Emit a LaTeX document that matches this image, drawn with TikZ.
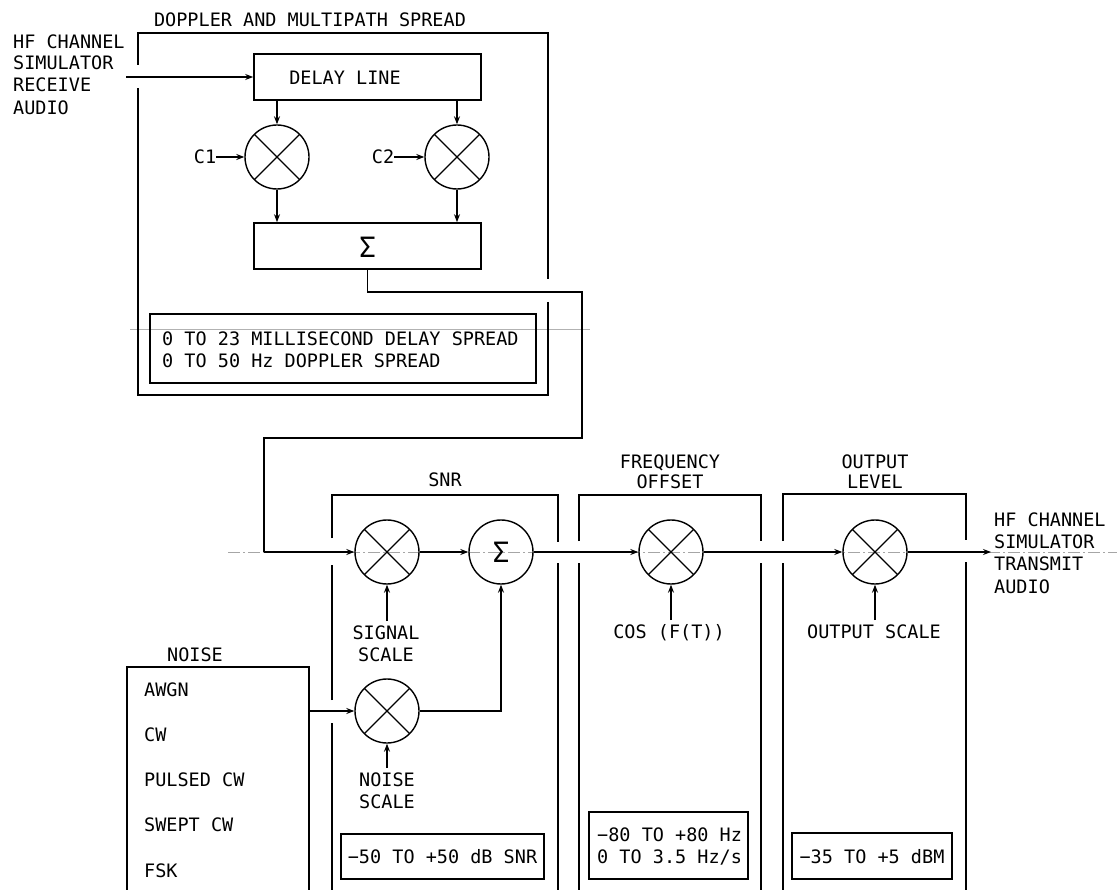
\documentclass[tikz,border=0pt]{standalone}
\usepackage{fontspec}
\newfontfamily\plotfont{DejaVu Sans Mono}
\usetikzlibrary{arrows.meta}
\tikzset{
  box/.style={line width=1.6pt},
  conn/.style={line width=1.2pt},
  arr/.style={conn,-{Stealth[length=8pt,width=6pt]}},
  lbl/.style={font=\plotfont\fontsize{18.5}{22}\selectfont, inner sep=0pt, text height=13.5pt, text depth=0pt},
  bigsig/.style={font=\plotfont\fontsize{28}{30}\selectfont, inner sep=0pt},
  mixer/.style={circle, draw, line width=1.4pt, minimum size=64pt, inner sep=0pt,
    path picture={\draw[line width=1.2pt] (path picture bounding box.north west) -- (path picture bounding box.south east)
      (path picture bounding box.north east) -- (path picture bounding box.south west);}},
  sumcirc/.style={circle, draw, line width=1.4pt, minimum size=64pt, inner sep=0pt, font=\plotfont\fontsize{28}{30}\selectfont},
  rangebox/.style={draw, line width=1.4pt, inner sep=0pt},
  artifact/.style={gray!70, line width=0.6pt, dash pattern=on 12pt off 3pt on 2pt off 3pt}
}
\begin{document}
\begin{tikzpicture}[x=1pt,y=-1pt]
\useasboundingbox (0,0) rectangle (1117,890);
\fill[white] (0,0) rectangle (1117,890);

% faint scan lines
\draw[artifact] (228,552) -- (1117,552);
\draw[gray!60, line width=0.5pt] (130,329) -- (590,329);

% ---------- Doppler and multipath spread ----------
\node[lbl] (dtitle) at (310,20) {DOPPLER AND MULTIPATH SPREAD};
\draw[box] (138,65) -- (138,33) -- (548,33) -- (548,279)
           (548,302) -- (548,395) -- (138,395) -- (138,88);

\node[lbl, anchor=west] (in1) at (13,42) {HF CHANNEL};
\node[lbl, anchor=west] (in2) at (13,63) {SIMULATOR};
\node[lbl, anchor=west] (in3) at (13,85) {RECEIVE};
\node[lbl, anchor=west] (in4) at (13,108) {AUDIO};
\coordinate (inpt) at (126,77);

\node[draw, box, minimum width=227pt, minimum height=46pt, inner sep=0pt] (dl) at (367.5,77) {};
\node[lbl] (dlt) at (345,78) {DELAY LINE};
\draw[arr] (inpt) -- (dl.west);

\node[mixer] (c1) at (277,157) {};
\node[mixer] (c2) at (457,157) {};
\node[lbl] (c1l) at (205,157) {C1};
\node[lbl] (c2l) at (383,157) {C2};
\draw[arr] (c1l.east) -- (c1.west);
\draw[arr] (c2l.east) -- (c2.west);

\node[draw, box, minimum width=227pt, minimum height=46pt, inner sep=0pt] (sb) at (367.5,246) {};
\node[bigsig] (sbs) at (367.5,247) {Σ};

\draw[arr] (dl.south -| c1) -- (c1.north);
\draw[arr] (dl.south -| c2) -- (c2.north);
\draw[arr] (c1.south) -- (c1.south |- sb.north);
\draw[arr] (c2.south) -- (c2.south |- sb.north);

\draw[rangebox] (150,314) rectangle (536,383);
\node[lbl, anchor=west] (dr1) at (162,339) {0 TO 23 MILLISECOND DELAY SPREAD};
\node[lbl, anchor=west] (dr2) at (162,361) {0 TO 50 Hz DOPPLER SPREAD};

% ---------- SNR ----------
\node[lbl] (snrt) at (445,480) {SNR};
\draw[box] (332,890) -- (332,723) (332,700) -- (332,565) (332,538) -- (332,495) -- (558,495) -- (558,542)
           (558,563) -- (558,890);
\node[mixer] (snrm) at (387,552) {};
\node[sumcirc] (sumc) at (501,552) {Σ};
\node[mixer] (noisem) at (387,711) {};

\draw[conn] (sb.south) -- (367.5,292) -- (582,292) -- (582,438) -- (264,438) -- (264,552);
\coordinate (axin) at (264,552);
\draw[arr] (axin) -- (snrm.west);
\draw[arr] (snrm.east) -- (sumc.west);

\node[lbl] (sig1) at (386,633) {SIGNAL};
\node[lbl] (sig2) at (386,655) {SCALE};
\draw[arr] (snrm.south |- 0,621) -- (snrm.south);
\node[lbl] (ns1) at (387,780) {NOISE};
\node[lbl] (ns2) at (387,802) {SCALE};
\draw[arr] (noisem.south |- 0,768) -- (noisem.south);
\draw[arr] (noisem.east) -- (sumc.south |- noisem.east) -- (sumc.south);

\draw[rangebox] (341,834) rectangle (544,879);
\node[lbl] (snrr) at (442.5,857) {−50 TO +50 dB SNR};

% ---------- Noise ----------
\node[lbl] (noiset) at (195,655) {NOISE};
\draw[box] (127,890) -- (127,667) -- (309,667) -- (309,890);
\node[lbl, anchor=west] (n1) at (144,690) {AWGN};
\node[lbl, anchor=west] (n2) at (144,735) {CW};
\node[lbl, anchor=west] (n3) at (144,780) {PULSED CW};
\node[lbl, anchor=west] (n4) at (144,825) {SWEPT CW};
\node[lbl, anchor=west] (n5) at (144,871) {FSK};
\coordinate (nout) at (309,711);
\draw[arr] (nout) -- (noisem.west);

% ---------- Frequency offset ----------
\node[lbl] (ft1) at (670,462) {FREQUENCY};
\node[lbl] (ft2) at (670,482) {OFFSET};
\draw[box] (579,890) -- (579,563) (579,541) -- (579,495) -- (761,495) -- (761,541)
           (761,563) -- (761,890);
\node[mixer] (freqm) at (671,552) {};
\draw[arr] (sumc.east) -- (freqm.west);
\node[lbl] (cos) at (669,632) {COS (F(T))};
\draw[arr] (freqm.south |- 0,620) -- (freqm.south);
\draw[rangebox] (589,812) rectangle (748,879);
\node[lbl, anchor=west] (fr1) at (597,835) {−80 TO +80 Hz};
\node[lbl, anchor=west] (fr2) at (597,857) {0 TO 3.5 Hz/s};

% ---------- Output level ----------
\node[lbl] (ot1) at (875,462) {OUTPUT};
\node[lbl] (ot2) at (875,482) {LEVEL};
\draw[box] (783,890) -- (783,563) (783,541) -- (783,494) -- (966,494) -- (966,540)
           (966,562) -- (966,890);
\node[mixer] (outm) at (875,552) {};
\draw[arr] (freqm.east) -- (outm.west);
\node[lbl] (osc) at (874,632) {OUTPUT SCALE};
\draw[arr] (outm.south |- 0,620) -- (outm.south);
\draw[rangebox] (792,833) rectangle (952,879);
\node[lbl] (outr) at (872,857) {−35 TO +5 dBM};

\coordinate (outpt) at (991,552);
\draw[arr] (outm.east) -- (outpt);
\node[lbl, anchor=west] (o1) at (994,520) {HF CHANNEL};
\node[lbl, anchor=west] (o2) at (994,542) {SIMULATOR};
\node[lbl, anchor=west] (o3) at (994,564) {TRANSMIT};
\node[lbl, anchor=west] (o4) at (994,587) {AUDIO};
\end{tikzpicture}
\end{document}
